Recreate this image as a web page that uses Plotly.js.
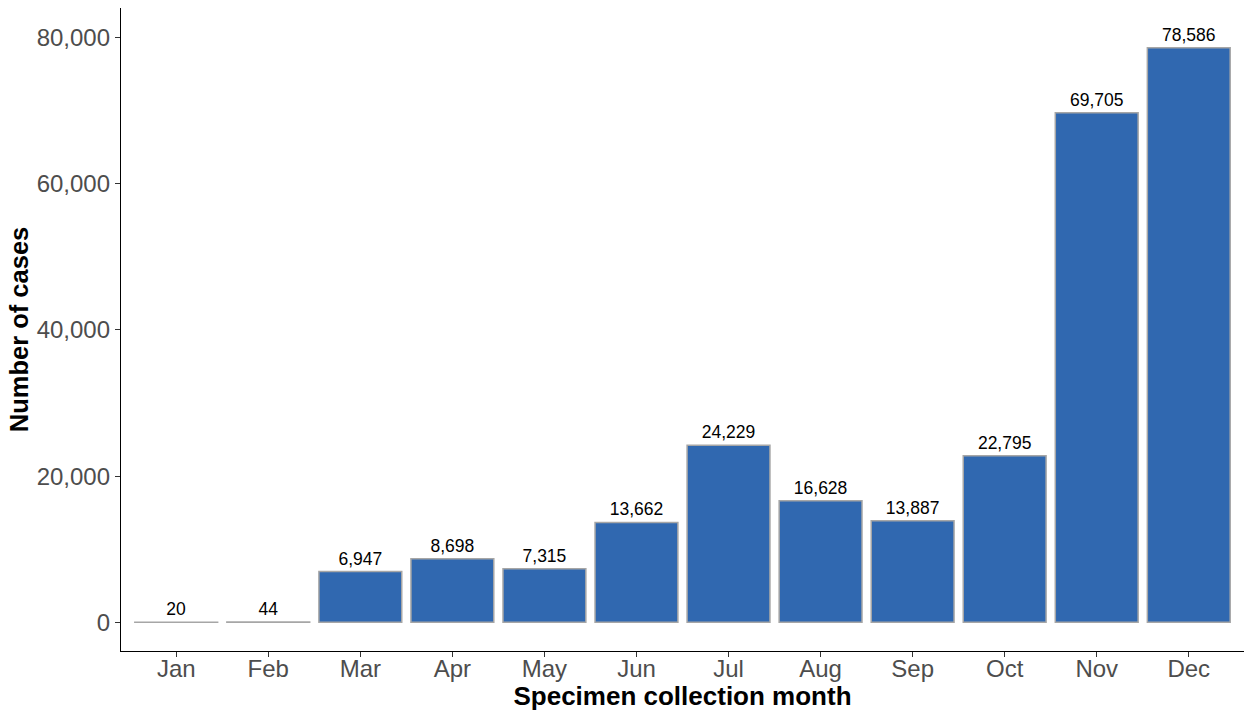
<!DOCTYPE html>
<html><head><meta charset="utf-8">
<script src="https://cdn.plot.ly/plotly-3.0.1.min.js"></script>
<style>html,body{margin:0;padding:0;background:#fff}#chart{width:1245px;height:711px}</style>
</head><body><div id="chart"></div>
<script>
const months = ["Jan","Feb","Mar","Apr","May","Jun","Jul","Aug","Sep","Oct","Nov","Dec"];
const cases = [20,44,6947,8698,7315,13662,24229,16628,13887,22795,69705,78586];
const yTicks = [0,20000,40000,60000,80000];
const yTickText = ["0","20,000","40,000","60,000","80,000"];

const trace = {
  type: "bar",
  x: months,
  y: cases,
  width: 0.9,
  marker: {color: "#3068B0", line: {color: "#A6A6A6", width: 1.5}},
  text: cases.map(v => v.toLocaleString("en-US")),
  textposition: "outside",
  textfont: {family: "Liberation Sans, Arial, sans-serif", size: 17.5, color: "#000"},
  cliponaxis: false,
  hoverinfo: "x+y"
};

const layout = {
  width: 1245, height: 711,
  margin: {l: 121, r: 1, t: 8, b: 60},
  paper_bgcolor: "#fff", plot_bgcolor: "#fff",
  showlegend: false,
  bargap: 0.1,
  font: {family: "Liberation Sans, Arial, sans-serif"},
  xaxis: {
    range: [-0.6, 11.6],
    showline: true, linecolor: "#000", linewidth: 1.3,
    ticks: "outside", ticklen: 5, tickcolor: "#333", tickwidth: 1,
    ticklabelstandoff: -9,
    showgrid: false, zeroline: false,
    tickfont: {size: 24, color: "#4D4D4D"},
    title: {text: "<b>Specimen collection month</b>", font: {size: 26, color: "#000"}, standoff: 2},
    automargin: false
  },
  yaxis: {
    range: [-3926, 84036],
    tickvals: yTicks, ticktext: yTickText,
    showline: true, linecolor: "#000", linewidth: 1.3,
    ticks: "outside", ticklen: 5, tickcolor: "#333", tickwidth: 1,
    showgrid: false, zeroline: false,
    tickfont: {size: 24, color: "#4D4D4D"},
    title: {text: "<b>Number of cases</b>", font: {size: 25.5, color: "#000"}, standoff: 0},
    automargin: false
  }
};

Plotly.newPlot("chart", [trace], layout, {displayModeBar: false, responsive: false});
</script></body></html>
